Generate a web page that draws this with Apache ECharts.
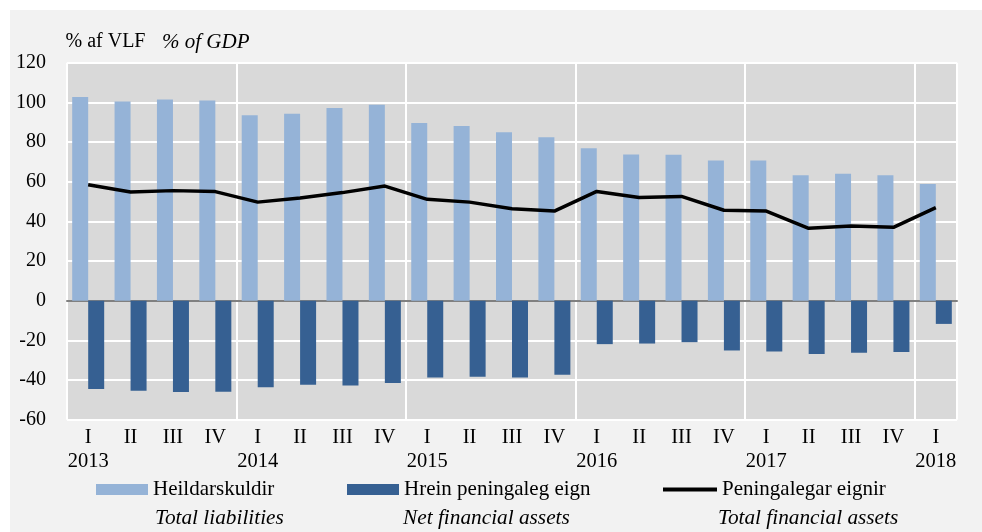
<!DOCTYPE html>
<html>
<head>
<meta charset="utf-8">
<script src="https://cdn.jsdelivr.net/npm/echarts@6/dist/echarts.min.js"></script>
<style>
html,body{margin:0;padding:0;background:#ffffff;}
#c{position:absolute;left:0;top:0;width:982px;height:532px;}
</style>
</head>
<body>
<div id="c"></div>
<script>
const quarters = ['I','II','III','IV','I','II','III','IV','I','II','III','IV','I','II','III','IV','I','II','III','IV','I'];
const years = ['2013','','','','2014','','','','2015','','','','2016','','','','2017','','','','2018'];
const totalLiabilities = [102.7,100.5,101.5,100.9,93.5,94.2,97.2,98.8,89.6,88.1,84.9,82.4,76.9,73.7,73.6,70.7,70.7,63.3,64.0,63.2,58.8];
const netFinancialAssets = [-44.5,-45.4,-46.0,-45.9,-43.7,-42.4,-42.7,-41.5,-38.7,-38.3,-38.7,-37.3,-21.9,-21.6,-20.9,-25.1,-25.6,-26.9,-26.3,-25.9,-11.7];
const totalFinancialAssets = [58.5,54.8,55.5,55.0,49.7,51.8,54.5,57.8,51.1,49.7,46.4,45.2,55.1,52.0,52.6,45.6,45.2,36.5,37.7,37.0,46.9];
const yTicks = [-60,-40,-20,0,20,40,60,80,100,120];

const categories = quarters.map((q,i)=> years[i] ? q + '\n' + years[i] : q);
const FONT = '"Liberation Serif","Times New Roman",serif';

const chart = echarts.init(document.getElementById('c'));
chart.setOption({
  backgroundColor: 'transparent',
  animation: false,
  textStyle: {fontFamily: FONT, color: '#000'},
  graphic: [
    {type:'rect', silent:true, z:-10, shape:{x:10,y:10,width:972,height:522}, style:{fill:'#f2f2f2'}},
    {type:'rect', silent:true, z:-9, shape:{x:67,y:62.7,width:890,height:357}, style:{fill:'#d9d9d9'}},
    {type:'text', left:65.5, top:32, style:{text:'% af VLF', font:'20px ' + FONT, fill:'#000'}},
    {type:'text', left:162, top:31.5, style:{text:'% of GDP', font:'italic 21px ' + FONT, fill:'#000'}},
    {type:'text', left:155, top:508, style:{text:'Total liabilities', font:'italic 21.3px ' + FONT, fill:'#000'}},
    {type:'text', left:403, top:508, style:{text:'Net financial assets', font:'italic 21.3px ' + FONT, fill:'#000'}},
    {type:'text', left:718, top:508, style:{text:'Total financial assets', font:'italic 21.3px ' + FONT, fill:'#000'}}
  ],
  grid: {left:67, right:25, top:62.7, bottom:112.3, containLabel:false, outerBoundsMode:'none'},
  legend: [
    {data:['Heildarskuldir'], left:96, top:479, padding:0, icon:'rect', itemWidth:52, itemHeight:11, itemGap:5,
     textStyle:{fontFamily:FONT, fontSize:21, color:'#000'}},
    {data:['Hrein peningaleg eign'], left:347, top:479, padding:0, icon:'rect', itemWidth:52, itemHeight:11,
     textStyle:{fontFamily:FONT, fontSize:21, color:'#000'}},
    {data:['Peningalegar eignir'], left:663, top:479, padding:0, icon:'rect', itemWidth:54, itemHeight:4,
     textStyle:{fontFamily:FONT, fontSize:21, color:'#000'}}
  ],
  xAxis: {
    type:'category',
    data: categories,
    boundaryGap: true,
    axisLine: {onZero:true, lineStyle:{color:'#808080', width:2}},
    axisTick: {show:false},
    axisLabel: {fontFamily:FONT, fontSize:20.5, color:'#000', lineHeight:24, margin:6, interval:0},
    splitLine: {show:true, interval:(i)=> i % 4 === 0, lineStyle:{color:'#ffffff', width:2}}
  },
  yAxis: {
    type:'value', min:-60, max:120, interval:20,
    axisLine:{show:false}, axisTick:{show:false},
    axisLabel:{fontFamily:FONT, fontSize:20, color:'#000', margin:21},
    splitLine:{show:true, lineStyle:{color:'#ffffff', width:2}}
  },
  series: [
    {name:'Heildarskuldir', type:'bar', data: totalLiabilities, barWidth:16, barGap:'0%',
     itemStyle:{color:'#95b3d7'}},
    {name:'Hrein peningaleg eign', type:'bar', data: netFinancialAssets, barWidth:16, barGap:'0%',
     itemStyle:{color:'#366092'}},
    {name:'Peningalegar eignir', type:'line', data: totalFinancialAssets, symbol:'none', z:5,
     lineStyle:{color:'#000', width:3.5}, itemStyle:{color:'#000'}}
  ]
});
</script>
</body>
</html>
